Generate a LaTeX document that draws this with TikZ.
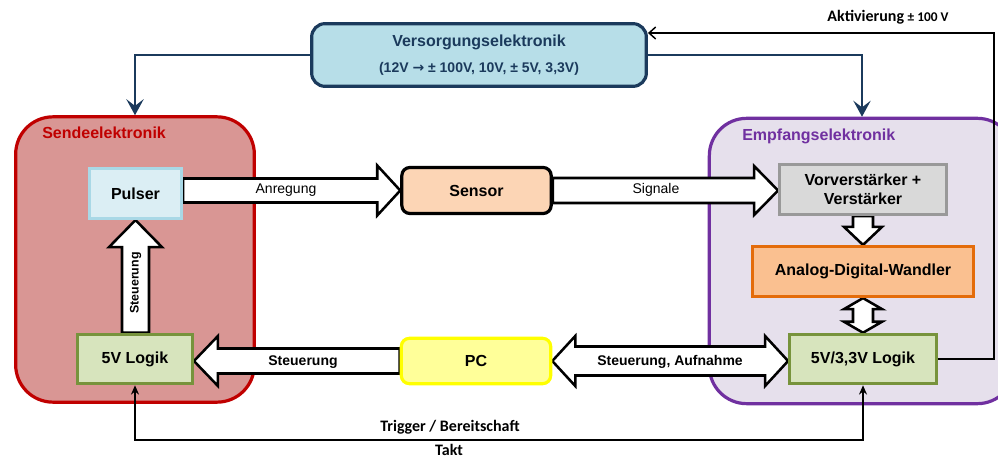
\documentclass[tikz,border=0pt]{standalone}
\usepackage{fontspec}
\setmainfont{Liberation Sans}
\newfontfamily\calibfont{Carlito}
\newfontfamily\symfont{DejaVu Sans}
\usetikzlibrary{arrows.meta,calc}

\definecolor{navy}{HTML}{1B3A5C}
\definecolor{versfill}{HTML}{B7DEE8}
\definecolor{sendefill}{HTML}{D99694}
\definecolor{sendeline}{HTML}{C00000}
\definecolor{empffill}{HTML}{E6E0EC}
\definecolor{empfline}{HTML}{7030A0}
\definecolor{pulsfill}{HTML}{DBEEF4}
\definecolor{pulsline}{HTML}{A9D8E6}
\definecolor{logfill}{HTML}{D7E4BD}
\definecolor{logline}{HTML}{77933C}
\definecolor{sensfill}{HTML}{FCD5B5}
\definecolor{pcfill}{HTML}{FFFF99}
\definecolor{pcline}{HTML}{FFFF00}
\definecolor{vvfill}{HTML}{D9D9D9}
\definecolor{vvline}{HTML}{999999}
\definecolor{adcfill}{HTML}{FAC090}
\definecolor{adcline}{HTML}{E46C0A}

\pgfdeclarelayer{back}
\pgfdeclarelayer{mid}
\pgfsetlayers{back,mid,main}

% horizontal block arrow: tail, tip, half shaft, half head, signed head length
\newcommand\HArrow[5]{%
  \draw[barrow] ($(#1 |- #2)+(0,{-(#3)})$) -- ($(#2)+({-(#5)},{-(#3)})$)
    -- ($(#2)+({-(#5)},{-(#4)})$) -- (#2) -- ($(#2)+({-(#5)},{#4})$)
    -- ($(#2)+({-(#5)},{#3})$) -- ($(#1 |- #2)+(0,{#3})$) -- cycle;}
% vertical block arrow: tail, tip, half shaft, half head, signed head length
\newcommand\VArrow[5]{%
  \draw[barrow] ($(#2 |- #1)+({-(#3)},0)$) -- ($(#2)+({-(#3)},{-(#5)})$)
    -- ($(#2)+({-(#4)},{-(#5)})$) -- (#2) -- ($(#2)+({#4},{-(#5)})$)
    -- ($(#2)+({#3},{-(#5)})$) -- ($(#2 |- #1)+({#3},0)$) -- cycle;}
% horizontal double block arrow: left tip, right tip, half shaft, half head, head length
\newcommand\HDArrow[5]{%
  \draw[barrow] (#1) -- ($(#1)+(#5,{-(#4)})$) -- ($(#1)+(#5,{-(#3)})$)
    -- ($(#2 |- #1)+({-(#5)},{-(#3)})$) -- ($(#2 |- #1)+({-(#5)},{-(#4)})$)
    -- (#2 |- #1) -- ($(#2 |- #1)+({-(#5)},#4)$) -- ($(#2 |- #1)+({-(#5)},#3)$)
    -- ($(#1)+(#5,#3)$) -- ($(#1)+(#5,#4)$) -- cycle;}
% vertical double block arrow: top tip, bottom tip, half shaft, half head, head length
\newcommand\VDArrow[5]{%
  \draw[barrow] (#1) -- ($(#1)+({-(#4)},#5)$) -- ($(#1)+({-(#3)},#5)$)
    -- ($(#1 |- #2)+({-(#3)},{-(#5)})$) -- ($(#1 |- #2)+({-(#4)},{-(#5)})$)
    -- (#1 |- #2) -- ($(#1 |- #2)+(#4,{-(#5)})$) -- ($(#1 |- #2)+(#3,{-(#5)})$)
    -- ($(#1)+(#3,#5)$) -- ($(#1)+(#4,#5)$) -- cycle;}

\begin{document}
\begin{tikzpicture}[x=0.75pt,y=-0.75pt,
  box/.style={draw, line width=2.4pt, inner sep=0pt, align=center,
    font=\bfseries\fontsize{12}{14}\selectfont},
  group/.style={line width=2.4pt, rounded corners=28pt, inner sep=0pt},
  grouplabel/.style={anchor=west, inner sep=0pt, font=\bfseries\fontsize{12}{14}\selectfont},
  barrow/.style={draw=black, fill=white, line width=1.9pt, line join=miter},
  arrlabel/.style={inner sep=0pt, font=\fontsize{10.5}{12}\selectfont},
  arrlabelb/.style={inner sep=0pt, font=\bfseries\fontsize{10.5}{12}\selectfont},
  navyline/.style={draw=navy, line width=2.2pt, -{Stealth[length=12pt,width=13pt,inset=5pt]}},
  thinline/.style={draw=black, line width=1.1pt},
  sidelabel/.style={inner sep=0pt, font=\calibfont\bfseries\fontsize{12}{14}\selectfont}]

\useasboundingbox (0,0) rectangle (998,459);

% group frames
\begin{pgfonlayer}{back}
\node[group, draw=sendeline, fill=sendefill, minimum width=179pt, minimum height=214pt]
  (sende) at (135,259.5) {};
\node[group, draw=empfline, fill=empffill, minimum width=229pt, minimum height=214pt]
  (empf) at (862,261) {};
\end{pgfonlayer}
\node[grouplabel, text=sendeline] (sendelbl) at (42,133) {Sendeelektronik};
\node[grouplabel, text=empfline] (empflbl) at (742,136) {Empfangselektronik};

% supply unit
\node[box, draw=navy, fill=versfill, text=navy, rounded corners=10pt,
  minimum width=251pt, minimum height=47pt] (vers) at (479,55)
  {Versorgungselektronik\\[5pt]{\fontsize{10.5}{12}\selectfont (12V {\symfont →} ± 100V, 10V, ± 5V, 3,3V)}};

% blocks
\node[box, draw=pulsline, fill=pulsfill, minimum width=69pt, minimum height=37.5pt]
  (pulser) at (135.5,193.5) {Pulser};
\node[box, draw=logline, fill=logfill, minimum width=86pt, minimum height=37pt]
  (logik5) at (135,359) {5V Logik};
\node[box, draw=black, fill=sensfill, rounded corners=6pt, minimum width=112pt, minimum height=34.5pt]
  (sensor) at (476.5,190.5) {Sensor};
\node[box, draw=pcline, fill=pcfill, rounded corners=6pt, minimum width=112pt, minimum height=34pt]
  (pc) at (476,361) {PC};
\node[box, draw=vvline, fill=vvfill, minimum width=125pt, minimum height=37.5pt]
  (vorv) at (863,189.5) {Vorverstärker +\\Verstärker};
\node[box, draw=adcline, fill=adcfill, minimum width=166pt, minimum height=37.5pt]
  (adc) at (863,271.5) {Analog-Digital-Wandler};
\node[box, draw=logline, fill=logfill, minimum width=110pt, minimum height=37pt]
  (logik33) at (863,359) {5V/3,3V Logik};

% block arrows
\coordinate (sigtip) at (vorv.west |- sensor.east);
\coordinate (sttip) at (logik5.east |- pc.west);
\begin{pgfonlayer}{mid}
\HArrow{pulser.east}{sensor.west}{12}{25}{23}
\HArrow{sensor.east}{sigtip}{12.5}{24.5}{24}
\HArrow{pc.west}{sttip}{12.5}{25}{-24}
\HDArrow{pc.east}{logik33.west}{14.5}{25}{23}
\VArrow{logik5.north}{pulser.south}{13.5}{26.5}{-27}
\VArrow{vorv.south}{adc.north}{10}{19}{18}
\VDArrow{adc.south}{logik33.north}{10}{19}{11}
\end{pgfonlayer}

\node[arrlabel] (lanr) at (286,190) {Anregung};
\node[arrlabel] (lsig) at (656,190) {Signale};
\node[arrlabelb] (lst) at (303,362) {Steuerung};
\node[arrlabelb] (lsta) at (670,362) {Steuerung, Aufnahme};
\node[inner sep=0pt, rotate=90, font=\bfseries\fontsize{9.3}{11}\selectfont] (lstv) at (135.5,283) {Steuerung};

% supply lines
\draw[navyline] (vers.west) -| (sende.north);
\draw[navyline] (vers.east) -| (empf.north);

% activation feedback
\coordinate (actv) at (994,33);
\draw[thinline, -{Straight Barb[length=5pt,width=9pt]}] (logik33.east) -| (actv) -- (vers.east |- actv);
\node[sidelabel] (aktiv) at (888,17)
  {Aktivierung {\fontsize{10}{12}\selectfont ± 100 V}};

% trigger / clock line
\coordinate (trg) at (500,440);
\draw[thinline, {Stealth[length=7pt,width=6pt]}-{Stealth[length=7pt,width=6pt]}]
  (logik5.south) |- (trg) -| (logik33.south);
\node[sidelabel] (ltrig) at (450,427) {Trigger / Bereitschaft};
\node[sidelabel] (ltakt) at (449,450) {Takt};

\end{tikzpicture}
\end{document}
